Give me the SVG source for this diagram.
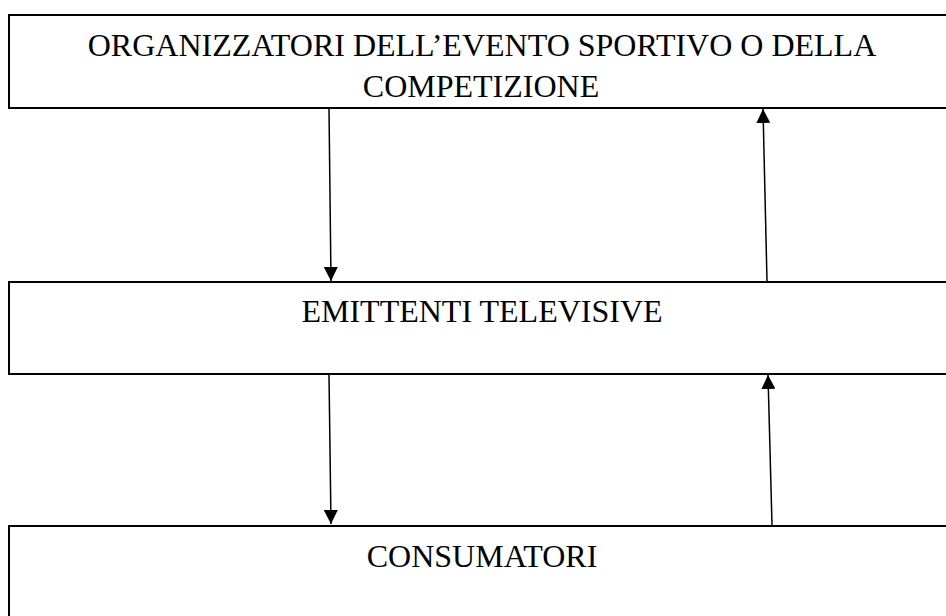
<svg xmlns="http://www.w3.org/2000/svg" width="946" height="616" viewBox="0 0 946 616">
<style>
.box{fill:#fff;stroke:#000;stroke-width:2}
.lbl{font-family:"Liberation Serif","Times New Roman",serif;font-size:32px;fill:#000;text-anchor:middle}
.conn{stroke:#000;stroke-width:1.5;fill:none;marker-end:url(#ah)}
</style>
<defs>
<marker id="ah" viewBox="0 0 14 14" refX="14" refY="7" markerWidth="14" markerHeight="14" markerUnits="userSpaceOnUse" orient="auto">
<path d="M0,0 L14,7 L0,14 Z" fill="#000"/>
</marker>
</defs>
<rect width="946" height="616" fill="#fff"/>
<g id="node-organizzatori">
<rect class="box" x="9" y="15" width="950" height="93"/>
<text class="lbl" x="482" y="56">ORGANIZZATORI DELL’EVENTO SPORTIVO O DELLA</text>
<text class="lbl" x="481" y="97">COMPETIZIONE</text>
</g>
<g id="node-emittenti">
<rect class="box" x="9" y="282" width="950" height="92"/>
<text class="lbl" x="482" y="322">EMITTENTI TELEVISIVE</text>
</g>
<g id="node-consumatori">
<rect class="box" x="9" y="526" width="950" height="100"/>
<text class="lbl" x="482" y="567">CONSUMATORI</text>
</g>
<g id="connectors">
<line class="conn" x1="329" y1="109" x2="331" y2="281"/>
<line class="conn" x1="767" y1="281" x2="763" y2="109"/>
<line class="conn" x1="329" y1="375" x2="331" y2="524"/>
<line class="conn" x1="772" y1="525" x2="768" y2="375"/>
</g>
</svg>
